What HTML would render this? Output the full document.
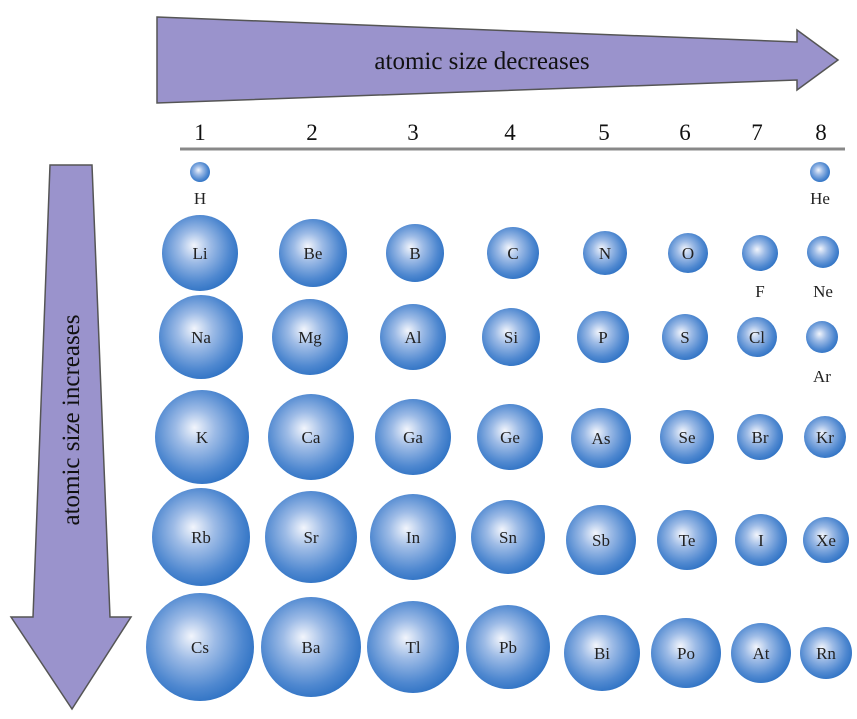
<!DOCTYPE html>
<html><head><meta charset="utf-8"><style>
html,body{margin:0;padding:0;background:#fff;}
svg{display:block;}
text{font-family:"Liberation Serif",serif;}
</style></head><body>
<svg width="857" height="719" viewBox="0 0 857 719" xmlns="http://www.w3.org/2000/svg">
<defs>
<radialGradient id="g" cx="0.45" cy="0.45" r="0.6" fx="0.42" fy="0.4">
<stop offset="0" stop-color="#f2f5fc"/>
<stop offset="0.35" stop-color="#9dbbe6"/>
<stop offset="0.75" stop-color="#4f88d0"/>
<stop offset="1" stop-color="#2a6fc2"/>
</radialGradient>
</defs>
<polygon points="157,17 797,42 797,30 838,60 797,90 797,80 157,103" fill="#9a93cc" stroke="#555" stroke-width="1.5"/>
<text x="482" y="69" font-size="25" text-anchor="middle" fill="#111">atomic size decreases</text>
<polygon points="50,165 92,165 110,617 131,617 72,709 11,617 33,617" fill="#9a93cc" stroke="#555" stroke-width="1.5"/>
<text x="0" y="0" font-size="25" text-anchor="middle" fill="#111" transform="translate(79,420) rotate(-90)">atomic size increases</text>
<line x1="180" y1="149" x2="845" y2="149" stroke="#888" stroke-width="3"/>
<g font-size="23" text-anchor="middle" fill="#111">
<text x="200" y="140">1</text><text x="312" y="140">2</text><text x="413" y="140">3</text><text x="510" y="140">4</text><text x="604" y="140">5</text><text x="685" y="140">6</text><text x="757" y="140">7</text><text x="821" y="140">8</text>
</g>
<g fill="url(#g)">
<circle cx="200" cy="172" r="10"/><circle cx="820" cy="172" r="10"/>
<circle cx="200" cy="253" r="38"/><circle cx="313" cy="253" r="34"/><circle cx="415" cy="253" r="29"/><circle cx="513" cy="253" r="26"/><circle cx="605" cy="253" r="22"/><circle cx="688" cy="253" r="20"/><circle cx="760" cy="253" r="18"/><circle cx="823" cy="252" r="16"/>
<circle cx="201" cy="337" r="42"/><circle cx="310" cy="337" r="38"/><circle cx="413" cy="337" r="33"/><circle cx="511" cy="337" r="29"/><circle cx="603" cy="337" r="26"/><circle cx="685" cy="337" r="23"/><circle cx="757" cy="337" r="20"/><circle cx="822" cy="337" r="16"/>
<circle cx="202" cy="437" r="47"/><circle cx="311" cy="437" r="43"/><circle cx="413" cy="437" r="38"/><circle cx="510" cy="437" r="33"/><circle cx="601" cy="438" r="30"/><circle cx="687" cy="437" r="27"/><circle cx="760" cy="437" r="23"/><circle cx="825" cy="437" r="21"/>
<circle cx="201" cy="537" r="49"/><circle cx="311" cy="537" r="46"/><circle cx="413" cy="537" r="43"/><circle cx="508" cy="537" r="37"/><circle cx="601" cy="540" r="35"/><circle cx="687" cy="540" r="30"/><circle cx="761" cy="540" r="26"/><circle cx="826" cy="540" r="23"/>
<circle cx="200" cy="647" r="54"/><circle cx="311" cy="647" r="50"/><circle cx="413" cy="647" r="46"/><circle cx="508" cy="647" r="42"/><circle cx="602" cy="653" r="38"/><circle cx="686" cy="653" r="35"/><circle cx="761" cy="653" r="30"/><circle cx="826" cy="653" r="26"/>
</g>
<g font-size="17" text-anchor="middle" fill="#222">
<text x="200" y="204">H</text><text x="820" y="204">He</text>
<text x="200" y="259">Li</text><text x="313" y="259">Be</text><text x="415" y="259">B</text><text x="513" y="259">C</text><text x="605" y="259">N</text><text x="688" y="259">O</text><text x="760" y="297">F</text><text x="823" y="297">Ne</text>
<text x="201" y="343">Na</text><text x="310" y="343">Mg</text><text x="413" y="343">Al</text><text x="511" y="343">Si</text><text x="603" y="343">P</text><text x="685" y="343">S</text><text x="757" y="343">Cl</text><text x="822" y="382">Ar</text>
<text x="202" y="443">K</text><text x="311" y="443">Ca</text><text x="413" y="443">Ga</text><text x="510" y="443">Ge</text><text x="601" y="444">As</text><text x="687" y="443">Se</text><text x="760" y="443">Br</text><text x="825" y="443">Kr</text>
<text x="201" y="543">Rb</text><text x="311" y="543">Sr</text><text x="413" y="543">In</text><text x="508" y="543">Sn</text><text x="601" y="546">Sb</text><text x="687" y="546">Te</text><text x="761" y="546">I</text><text x="826" y="546">Xe</text>
<text x="200" y="653">Cs</text><text x="311" y="653">Ba</text><text x="413" y="653">Tl</text><text x="508" y="653">Pb</text><text x="602" y="659">Bi</text><text x="686" y="659">Po</text><text x="761" y="659">At</text><text x="826" y="659">Rn</text>
</g>
</svg>
</body></html>
